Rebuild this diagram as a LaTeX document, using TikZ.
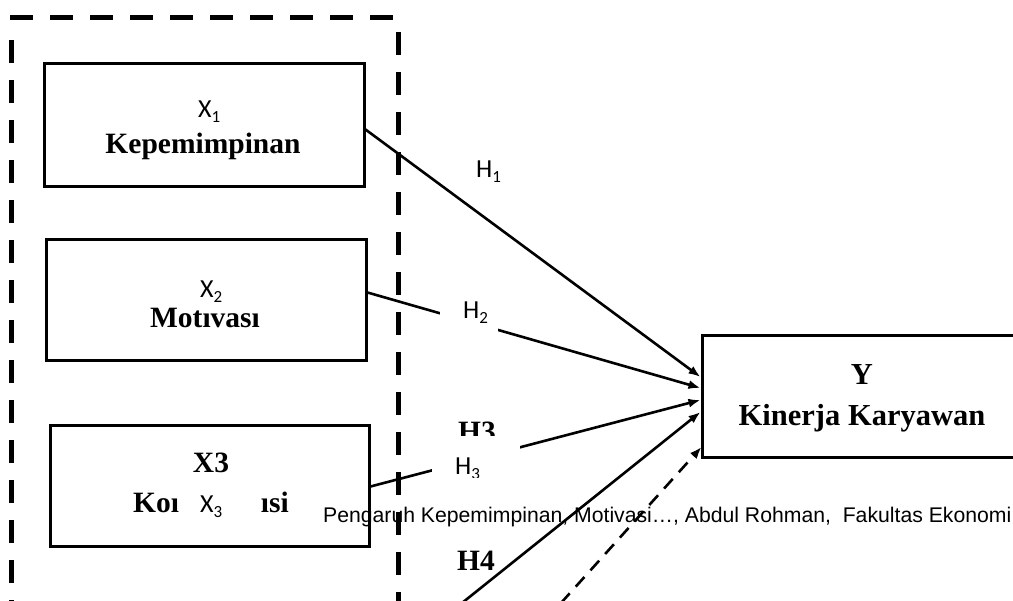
\documentclass[tikz,border=0pt]{standalone}
\usepackage{fontspec}
\setmainfont{Liberation Serif}
\newfontfamily\calib{Carlito}
\newfontfamily\arialf{Liberation Sans}
\usetikzlibrary{arrows.meta,calc}
\newcommand\lsub[1]{\raisebox{-4.5pt}{\fontsize{17}{17}\selectfont #1}}
\tikzset{
 box/.style={draw, line width=3pt, inner sep=0pt},
 lab/.style={font=\calib\fontsize{26}{26}\selectfont, anchor=base west, inner sep=0pt},
 ser/.style={font=\bfseries\fontsize{29.5}{29.5}\selectfont, inner sep=0pt, anchor=base},
 serY/.style={font=\bfseries\fontsize{30.5}{30.5}\selectfont, inner sep=0pt, anchor=base},
 arr/.style={line width=2.6pt, -{Latex[length=12pt,width=9pt]}},
 frame/.style={line width=5pt, dash pattern=on 23pt off 17pt},
 foot/.style={font=\arialf\fontsize{21.2}{21.2}\selectfont, anchor=base west, inner sep=0pt},
}
\begin{document}
\begin{tikzpicture}[x=1pt,y=-1pt]
\useasboundingbox (0,0) rectangle (1013,601);
% dashed frame
\draw[frame] (10,18) -- (395,18);
\draw[frame] (11,40) -- (11,601);
\draw[frame] (398,32) -- (398,601);
% boxes
\node[box, minimum width=320pt, minimum height=123pt] (b1) at (204,125.5) {};
\node[box, minimum width=320pt, minimum height=121pt] (b2) at (206,300.5) {};
\node[box, minimum width=319pt, minimum height=121pt] (b3) at (209.5,486.5) {};
\node[box, minimum width=314pt, minimum height=122pt] (y) at (859,397) {};
% arrows
\coordinate (s4) at (462,603);
\coordinate (s5) at (561,603);
\draw[arr] ([yshift=-4pt]b1.east) -- ([yshift=20pt]y.west);
\draw[arr] ([yshift=8pt]b2.east) -- ([yshift=9pt]y.west);
\draw[arr] (b3.east) -- ([yshift=-3pt]y.west);
\draw[arr] (s4) -- ([yshift=-15pt]y.west);
\draw[arr, dash pattern=on 13pt off 9pt] (s5) -- ([xshift=1pt,yshift=-50pt]y.west);
% partial bold H3 and masks
\node[ser, anchor=base west] (h3b) at (458,442) {H3};
\fill[white] (432,436) rectangle (520,478);
\fill[white] (440,296) rectangle (498,336);
% labels
\node[lab] (x1) at (198,118) {X\lsub{1}};
\node[ser] (t1) at (203,154) {Kepemimpinan};
\node[lab] (x2) at (200,298) {X\lsub{2}};
\node[ser] (t2) at (205,328) {Motıvası};
\node[ser] (x3b) at (211,473) {X3};
\node[ser, anchor=base west] (t3a) at (133,513) {Koı};
\node[lab] (x3) at (200,513) {X\lsub{3}};
\node[ser, anchor=base east] (t3b) at (289,513) {ısi};
\node[serY] (yy) at (862,385) {Y};
\node[serY] (ty) at (862,426) {Kinerja Karyawan};
\node[lab] (h1) at (476,178) {H\lsub{1}};
\node[lab] (h2) at (463,319) {H\lsub{2}};
\begin{scope}
\clip (425,436) rectangle (520,478);
\node[lab] (h3) at (455,475) {H\lsub{3}};
\end{scope}
\node[ser, anchor=base west] (h4) at (457,571) {H4};
\node[foot] (ft) at (323,523) {Pengaruh Kepemimpinan, Motivasi…, Abdul Rohman,~ Fakultas Ekonomi};
\end{tikzpicture}
\end{document}
